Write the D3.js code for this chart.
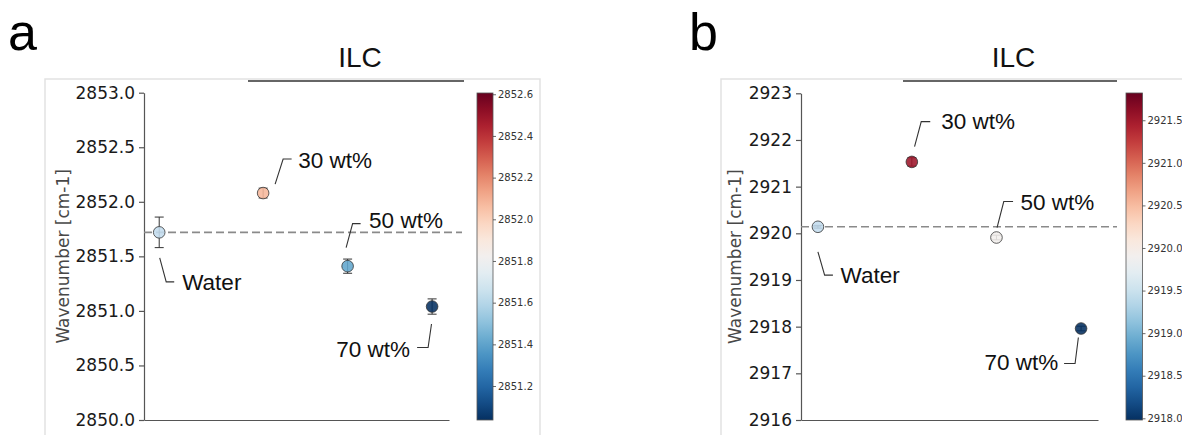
<!DOCTYPE html>
<html>
<head>
<meta charset="utf-8">
<script src="https://cdn.jsdelivr.net/npm/d3@7"></script>
<style>
  body { margin: 0; background: #fff; }
  svg { display: block; }
</style>
</head>
<body>
<svg id="chart" width="1182" height="435"></svg>
<script>
var width = 1182;
var height = 435;

// samples, same order in both panels
var labels = ["Water", "30 wt%", "50 wt%", "70 wt%"];

// panel a  (CH2 symmetric stretch)
var xA = [0, 1.23, 2.23, 3.23];
var valuesA = [2851.72, 2852.08, 2851.41, 2851.04];
var errorsA = [0.14, 0.045, 0.065, 0.07];
var yTicksA = [2850.0, 2850.5, 2851.0, 2851.5, 2852.0, 2852.5, 2853.0];
var cbarTicksA = [2851.2, 2851.4, 2851.6, 2851.8, 2852.0, 2852.2, 2852.4, 2852.6];
var cbarRangeA = [2851.037, 2852.606];
var refA = 2851.72;

// panel b  (CH2 asymmetric stretch)
var xB = [0, 1.11, 2.11, 3.11];
var valuesB = [2920.14, 2921.53, 2919.91, 2917.96];
var errorsB = [0.03, 0.09, 0.05, 0.05];
var yTicksB = [2916, 2917, 2918, 2919, 2920, 2921, 2922, 2923];
var cbarTicksB = [2918.0, 2918.5, 2919.0, 2919.5, 2920.0, 2920.5, 2921.0, 2921.5];
var cbarRangeB = [2917.98, 2921.82];
var refB = 2920.14;

var waterFill = "#c3dcee";   // the water control is always drawn light blue

var svg = d3.select("#chart");
svg.append("rect").attr("width", width).attr("height", height).attr("fill", "#fff");

var defs = svg.append("defs");

function drawPanel(p, lay) {
  var g = svg.append("g");

  // light frame around the subplot
  g.append("rect")
    .attr("x", lay.frameX).attr("y", 79)
    .attr("width", lay.frameW).attr("height", 400)
    .attr("fill", "none").attr("stroke", "#e2e2e2").attr("stroke-width", 1.5);

  // panel letter
  g.append("text")
    .attr("x", lay.letterX).attr("y", 50)
    .style("font-family", "'Liberation Sans', Arial, sans-serif")
    .style("font-size", "52px").attr("fill", "#000")
    .text(p.letter);

  // ILC group bracket
  g.append("line")
    .attr("x1", lay.ilcX1).attr("x2", lay.ilcX2).attr("y1", 81).attr("y2", 81)
    .attr("stroke", "#333").attr("stroke-width", 1.6);
  g.append("text")
    .attr("x", lay.ilcTextX).attr("y", 67).attr("text-anchor", "middle")
    .style("font-family", "'Liberation Sans', Arial, sans-serif")
    .style("font-size", "28px").attr("fill", "#111")
    .text("ILC");

  var x = d3.scaleLinear().domain(lay.xDomain).range([lay.axisX, lay.axisRight]);
  var y = d3.scaleLinear().domain([p.yTicks[0], p.yTicks[p.yTicks.length - 1]])
    .range([lay.bottom, lay.top]);
  var color = d3.scaleSequential(d3.interpolateRdBu).domain([p.cbar[1], p.cbar[0]]);

  // y axis
  var yAxis = d3.axisLeft(y).tickValues(p.yTicks).tickFormat(d3.format(p.yFmt))
    .tickSize(5).tickSizeOuter(0).tickPadding(4);
  var ya = g.append("g").attr("transform", "translate(" + lay.axisX + ",0)").call(yAxis);
  ya.selectAll("path, line").attr("stroke", "#555").attr("stroke-width", 1.2);
  ya.selectAll("text")
    .style("font-family", "'DejaVu Sans', sans-serif").style("font-size", "17px")
    .attr("fill", "#1a1a1a");

  // x axis: bare spine
  var xAxis = d3.axisBottom(x).tickValues([]).tickSizeOuter(0);
  var xa = g.append("g").attr("transform", "translate(0," + lay.bottom + ")").call(xAxis);
  xa.selectAll("path").attr("stroke", "#555").attr("stroke-width", 1.2);

  g.append("text")
    .attr("transform", "translate(" + lay.ylabelX + "," + ((lay.top + lay.bottom) / 2) + ") rotate(-90)")
    .attr("text-anchor", "middle").attr("dominant-baseline", "central")
    .style("font-family", "'DejaVu Sans', sans-serif").style("font-size", "17px")
    .attr("fill", "#484848")
    .text("Wavenumber [cm-1]");

  // water reference line
  g.append("line")
    .attr("x1", lay.axisX).attr("x2", lay.dashEnd)
    .attr("y1", y(p.ref)).attr("y2", y(p.ref))
    .attr("stroke", "#8a8a8a").attr("stroke-width", 1.6)
    .attr("stroke-dasharray", "8,4");

  var rows = p.values.map(function (v, i) {
    return { x: p.xs[i], v: v, e: p.errors[i], label: labels[i], note: lay.notes[i], i: i };
  });

  // error bars
  var eb = g.selectAll("g.err").data(rows).enter().append("g").attr("class", "err")
    .attr("stroke", "#333").attr("stroke-width", 1);
  eb.append("line")
    .attr("x1", function (d) { return x(d.x); }).attr("x2", function (d) { return x(d.x); })
    .attr("y1", function (d) { return y(d.v - d.e); }).attr("y2", function (d) { return y(d.v + d.e); });
  [-1, 1].forEach(function (s) {
    eb.append("line")
      .attr("x1", function (d) { return x(d.x) - 4.5; }).attr("x2", function (d) { return x(d.x) + 4.5; })
      .attr("y1", function (d) { return y(d.v + s * d.e); }).attr("y2", function (d) { return y(d.v + s * d.e); });
  });

  // markers, slightly see-through so the bar shows inside
  g.selectAll("circle.pt").data(rows).enter().append("circle")
    .attr("class", "pt")
    .attr("cx", function (d) { return x(d.x); })
    .attr("cy", function (d) { return y(d.v); })
    .attr("r", 5.8)
    .attr("fill", function (d) { return d.i === 0 ? waterFill : color(d.v); })
    .attr("fill-opacity", 0.88)
    .attr("stroke", "#333").attr("stroke-width", 0.8);

  // annotations with elbow leaders
  rows.forEach(function (d) {
    var px = x(d.x), py = y(d.v), n = d.note;
    g.append("path")
      .attr("d", "M" + (px + n[0]) + "," + (py + n[1]) +
                 "L" + (px + n[2]) + "," + (py + n[3]) +
                 "L" + (px + n[4]) + "," + (py + n[3]))
      .attr("fill", "none").attr("stroke", "#333").attr("stroke-width", 1.1);
    g.append("text")
      .attr("x", px + n[5]).attr("y", py + n[6])
      .attr("text-anchor", n[7])
      .style("font-family", "'Liberation Sans', Arial, sans-serif")
      .style("font-size", "22.5px").attr("fill", "#111")
      .text(d.label);
  });

  // colorbar
  var gid = "grad" + p.letter;
  var grad = defs.append("linearGradient").attr("id", gid)
    .attr("x1", 0).attr("x2", 0).attr("y1", 1).attr("y2", 0);
  d3.range(0, 1.0001, 0.05).forEach(function (t) {
    grad.append("stop").attr("offset", t).attr("stop-color", d3.interpolateRdBu(1 - t));
  });
  var cy = d3.scaleLinear().domain(p.cbar).range([lay.bottom, 93]);
  g.append("rect")
    .attr("x", lay.cbarX).attr("y", 93)
    .attr("width", lay.cbarW).attr("height", lay.bottom - 93)
    .attr("fill", "url(#" + gid + ")")
    .attr("stroke", "#555").attr("stroke-width", 0.8);
  var cAxis = d3.axisRight(cy).tickValues(p.cbarTicks).tickFormat(d3.format(".1f"))
    .tickSize(3).tickSizeOuter(0).tickPadding(2);
  var ca = g.append("g").attr("transform", "translate(" + (lay.cbarX + lay.cbarW) + ",0)").call(cAxis);
  ca.select("path").remove();
  ca.selectAll("line").attr("stroke", "#444").attr("stroke-width", 0.8);
  ca.selectAll("text")
    .style("font-family", "'DejaVu Sans', sans-serif").style("font-size", "10px")
    .attr("fill", "#333");
}

// leader offsets from each point: start dx,dy / elbow dx,dy / end dx / text dx,dy / anchor
drawPanel(
  { letter: "a", xs: xA, values: valuesA, errors: errorsA, yTicks: yTicksA, yFmt: ".1f",
    cbar: cbarRangeA, cbarTicks: cbarTicksA, ref: refA },
  { letterX: 8, frameX: 45, frameW: 495, axisX: 144, axisRight: 449, top: 92.7, bottom: 420,
    dashEnd: 462, ilcX1: 248, ilcX2: 464, ilcTextX: 360, cbarX: 477, cbarW: 16, ylabelX: 63,
    xDomain: [-0.18, 3.43],
    notes: [
      [0.5, 25.5, 7, 49.5, 15, 23, 58, "start"],
      [12, -9, 20, -34, 28.5, 35, -25.5, "start"],
      [-1.5, -18.5, 5, -42.5, 13, 21.5, -38.5, "start"],
      [-0.6, 17.5, -4, 41, -15, -22, 50.5, "end"]
    ] }
);

drawPanel(
  { letter: "b", xs: xB, values: valuesB, errors: errorsB, yTicks: yTicksB, yFmt: "d",
    cbar: cbarRangeB, cbarTicks: cbarTicksB, ref: refB },
  { letterX: 689, frameX: 721, frameW: 520, axisX: 801, axisRight: 1098, top: 93.3, bottom: 420,
    dashEnd: 1117, ilcX1: 903, ilcX2: 1117, ilcTextX: 1013.5, cbarX: 1126, cbarW: 16.5, ylabelX: 735,
    xDomain: [-0.2, 3.31],
    notes: [
      [0, 25, 6.7, 48.3, 15, 22.7, 56.6, "start"],
      [2.7, -15.3, 9.4, -40.3, 18.4, 29.4, -32.7, "start"],
      [0.6, -10, 7.3, -36, 16.6, 24, -27.7, "start"],
      [-2.7, 9, -6, 35, -17, -22.7, 41, "end"]
    ] }
);
</script>
</body>
</html>
